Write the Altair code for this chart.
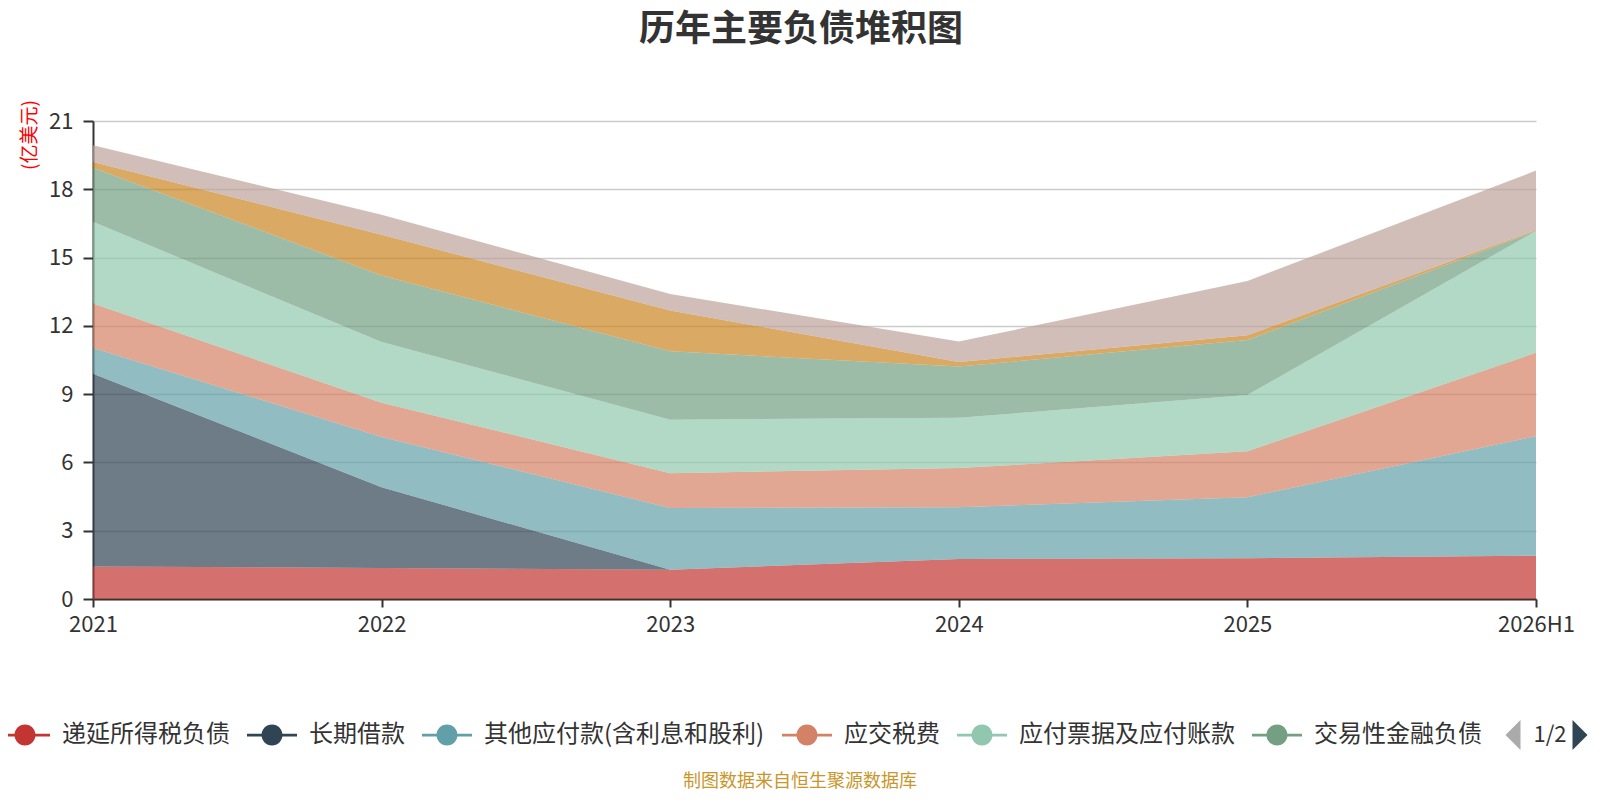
import altair as alt
import pandas as pd

# ---------------- data ----------------
periods = ["2021", "2022", "2023", "2024", "2025", "2026H1"]
series_names = [
    "递延所得税负债",
    "长期借款",
    "其他应付款(含利息和股利)",
    "应交税费",
    "应付票据及应付账款",
    "交易性金融负债",
    "应付职工薪酬",
    "合同负债",
]
colors = ["#c23531", "#2f4554", "#61a0a8", "#d48265", "#91c7ae", "#749f83", "#ca8622", "#bda29a"]

deferred_tax = [1.43, 1.36, 1.29, 1.76, 1.79, 1.90]
long_term_loans = [8.47, 3.55, 0.0, 0.0, 0.0, 0.0]
other_payables = [1.13, 2.21, 2.71, 2.27, 2.68, 5.25]
taxes_payable = [1.95, 1.50, 1.53, 1.72, 2.02, 3.67]
notes_accounts_payable = [3.59, 2.67, 2.35, 2.21, 2.47, 5.35]
trading_fin_liab = [2.38, 2.92, 3.00, 2.25, 2.42, 0.0]
payroll_payable = [0.25, 1.79, 1.80, 0.20, 0.21, 0.04]
contract_liab = [0.73, 0.88, 0.72, 0.90, 2.38, 2.61]

y_ticks = [0, 3, 6, 9, 12, 15, 18, 21]
chart_title = "历年主要负债堆积图"
unit_label = "(亿美元)"
source_note = "制图数据来自恒生聚源数据库"
page_label = "1/2"

all_series = [deferred_tax, long_term_loans, other_payables, taxes_payable,
              notes_accounts_payable, trading_fin_liab, payroll_payable, contract_liab]

rows = []
for i, (name, vals) in enumerate(zip(series_names, all_series)):
    for p, v in zip(periods, vals):
        rows.append({"period": p, "series": name, "value": v, "idx": i})
df = pd.DataFrame(rows)

font = "Noto Sans CJK SC"

legend_symbol = ("M-1,-0.055 L1,-0.055 L1,0.055 L-1,0.055 Z "
                 "M0.42,0 A0.42,0.42 0 1,1 -0.42,0 A0.42,0.42 0 1,1 0.42,0 Z")

area = alt.Chart(df).mark_area(opacity=0.7, interpolate="linear").encode(
    x=alt.X(
        "period:N",
        sort=periods,
        scale=alt.Scale(type="point", padding=0),
        axis=alt.Axis(
            title=None, labelAngle=0, labelFontSize=22, labelColor="#333", labelFont=font,
            tickSize=8, tickColor="#333", tickWidth=2, domainColor="#333", domainWidth=2,
            labelPadding=7, grid=False, labelOverlap=False,
        ),
    ),
    y=alt.Y(
        "value:Q",
        stack="zero",
        scale=alt.Scale(domain=[0, 21], nice=False),
        axis=alt.Axis(
            title=None, values=y_ticks, labelFontSize=22, labelColor="#333", labelFont=font,
            tickSize=10, tickColor="#333", tickWidth=2, domainColor="#333", domainWidth=2,
            labelPadding=10, grid=True, gridColor="#cccccc", gridWidth=1.5,
        ),
    ),
    color=alt.Color(
        "series:N",
        scale=alt.Scale(domain=series_names, range=colors),
        legend=alt.Legend(
            title=None, orient="none", legendX=-93, legendY=589, direction="horizontal",
            columns=6, values=series_names[:6], symbolType=legend_symbol, symbolSize=2500,
            symbolStrokeWidth=0, symbolOpacity=1, labelFontSize=24, labelFont=font,
            labelColor="#333", labelOffset=12, columnPadding=17, labelLimit=600, padding=0,
        ),
    ),
    order=alt.Order("idx:Q", sort="ascending"),
)

one = pd.DataFrame({"t": [chart_title], "u": [unit_label], "s": [source_note], "p": [page_label]})

title_layer = alt.Chart(one).mark_text(
    font=font, fontSize=36, fontWeight="bold", color="#333", align="center", baseline="middle"
).encode(text="t:N", x=alt.value(708), y=alt.value(-91))

unit_layer = alt.Chart(one).mark_text(
    font=font, fontSize=19, color="#ff0000", align="center", baseline="middle", angle=270
).encode(text="u:N", x=alt.value(-63), y=alt.value(14))

source_layer = alt.Chart(one).mark_text(
    font=font, fontSize=18, color="#c9962c", align="center", baseline="middle"
).encode(text="s:N", x=alt.value(707), y=alt.value(661))

page_layer = alt.Chart(one).mark_text(
    font=font, fontSize=22, color="#333", align="center", baseline="middle"
).encode(text="p:N", x=alt.value(1457), y=alt.value(614))

tri_left = alt.Chart(one).mark_point(
    shape="M0.5,-1 L-0.5,0 L0.5,1 Z", filled=True, size=900, color="#aaaaaa", opacity=1
).encode(x=alt.value(1420), y=alt.value(614))

tri_right = alt.Chart(one).mark_point(
    shape="M-0.5,-1 L0.5,0 L-0.5,1 Z", filled=True, size=900, color="#2f4554", opacity=1
).encode(x=alt.value(1487), y=alt.value(614))

chart = alt.layer(
    area, title_layer, unit_layer, source_layer, page_layer, tri_left, tri_right
).properties(
    width=1443,
    height=478,
    autosize=alt.AutoSizeParams(type="none"),
    padding={"left": 85, "top": 113, "right": 52, "bottom": 196},
).configure_view(strokeWidth=0)

chart.save("out.html", embed_options={"renderer": "svg", "actions": False})
